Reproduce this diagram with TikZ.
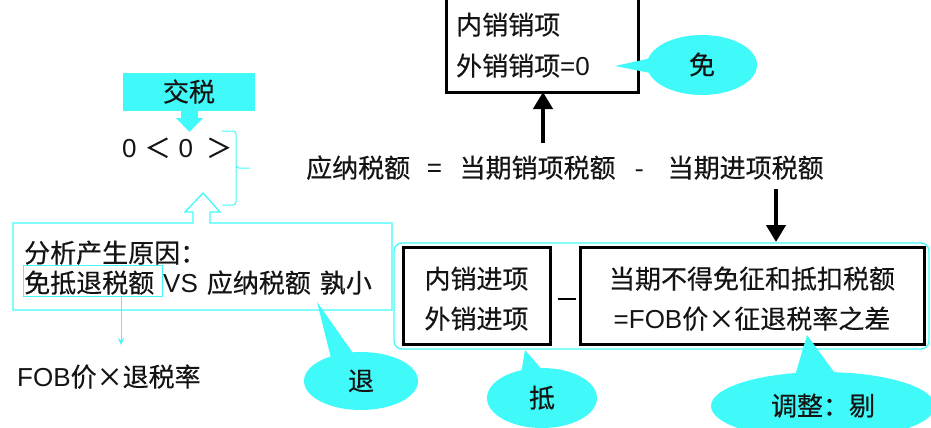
\documentclass[tikz,border=0pt]{standalone}
\usepackage{fontspec}
\setmainfont[FakeBold=0.4]{Noto Sans CJK SC}
\newfontfamily\lat{Liberation Sans}
\usetikzlibrary{arrows.meta,shapes.geometric}
\definecolor{cy}{RGB}{64,250,250}
\definecolor{ink}{RGB}{20,20,20}
\begin{document}
\begin{tikzpicture}[x=1pt,y=-1pt,
  txt/.style={inner sep=0pt, text=ink, text height=22pt, text depth=3pt, font=\fontsize{26}{30}\selectfont},
  thickbox/.style={draw=black, line width=3pt, inner sep=0pt},
  thincyan/.style={draw=cy, line width=1.3pt},
  bubble/.style={fill=cy, ellipse, inner sep=0pt},
  bigarrow/.style={line width=4.5pt, -{Triangle[length=17pt,width=19pt]}},
]
\useasboundingbox (0,0) rectangle (931,428);

% ---- top-left: tax paid
\node[txt, fill=cy, minimum width=132pt, minimum height=38pt] (js) at (189,92) {交税};
\fill[cy] (181,110) -- (198,110) -- (198,118) -- (203,118) -- (189.5,132) -- (176,118) -- (181,118) -- cycle;
\node[txt, anchor=west] (cmp0) at (122,148) {{\lat 0}\hspace{8pt}＜\hspace{8pt}{\lat 0}\hspace{13pt}＞};
\draw[cy, line width=1pt, rounded corners=3pt] (222,131) -- (236,131) -- (236,168) -- (250,168);
\draw[cy, line width=1pt, rounded corners=3pt] (236,166) -- (236,205) -- (222,205);

% ---- analysis box with hollow arrow
\draw[thincyan, line join=miter] (193,223) -- (193,212) -- (185,212) -- (203,193) -- (220,212) -- (210,212) -- (210,223)
  -- (392,223) -- (392,310) -- (13,310) -- (13,223) -- cycle;
\node[txt, anchor=west] (why) at (24,253) {分析产生原因：};
\node[txt, anchor=west] (cmp) at (24,283) {免抵退税额\hspace{9pt}{\lat VS}\hspace{9pt}应纳税额\hspace{9pt}孰小};
\node[draw=cy, line width=0.8pt, minimum width=139pt, minimum height=31pt, inner sep=0pt] (mdbox) at (92.5,280.5) {};
\node[txt, anchor=west] (fob) at (17,377) {{\lat FOB}价×退税率};
\coordinate (fobtop) at (121,345);
\draw[cy, line width=1pt, -{Stealth[length=7pt,width=6pt]}] (mdbox.south -| fobtop) -- (fobtop);

% ---- formula
\node[txt, anchor=west] (f) at (306,168) {应纳税额\hspace{17pt}=\hspace{18pt}当期销项税额\hspace{19pt}-\hspace{24pt}当期进项税额};

% ---- top box (sales)
\draw[thickbox] (446,-10) -- (446,92) -- (638,92) -- (638,-10);
\coordinate (topbot) at (543,92);
\node[txt, anchor=west] (nx) at (456,25) {内销销项};
\node[txt, anchor=west] (wx) at (456,66) {外销销项{\lat =0}};
\draw[bigarrow] (543,143) -- (topbot);

% ---- bottom frame (input)
\node[draw=cy, line width=1.3pt, rounded corners=8pt, minimum width=535pt, minimum height=106pt, inner sep=0pt] (frame) at (661.5,296) {};
\coordinate (frametop) at (776,242);
\draw[bigarrow] (776,189) -- (frametop);
\node[thickbox, minimum width=147pt, minimum height=97pt] (lb) at (476.5,295.5) {};
\node[txt] (lb1) at (476.5,279) {内销进项};
\node[txt] (lb2) at (476.5,319) {外销进项};
\node[thickbox, minimum width=344pt, minimum height=97pt] (rb) at (752,295.5) {};
\node[txt] (rb1) at (752,279) {当期不得免征和抵扣税额};
\node[txt] (rb2) at (752,319) {{\lat =FOB}价×征退税率之差};
\draw[line width=2.6pt] ([xshift=6pt]lb.east |- 0,299) -- ([xshift=-3pt]rb.west |- 0,299);

% ---- callouts
\fill[cy] (615,66) -- (665,55) -- (665,76) -- cycle;
\node[bubble, txt, minimum width=110pt, minimum height=60pt] (mian) at (702,65) {免};

\fill[cy] (317,302) -- (333,366) -- (360,363) -- cycle;
\node[bubble, txt, minimum width=114pt, minimum height=58pt] (tui) at (361,381) {退};

\fill[cy] (525,350) -- (520,381) -- (550,379) -- cycle;
\node[bubble, txt, minimum width=110pt, minimum height=60pt] (di) at (542,398) {抵};

\fill[cy] (807,335) -- (792,386) -- (842,383) -- cycle;
\node[bubble, txt, minimum width=224pt, minimum height=68pt] (tz) at (823,406) {调整：剔};
\end{tikzpicture}
\end{document}
